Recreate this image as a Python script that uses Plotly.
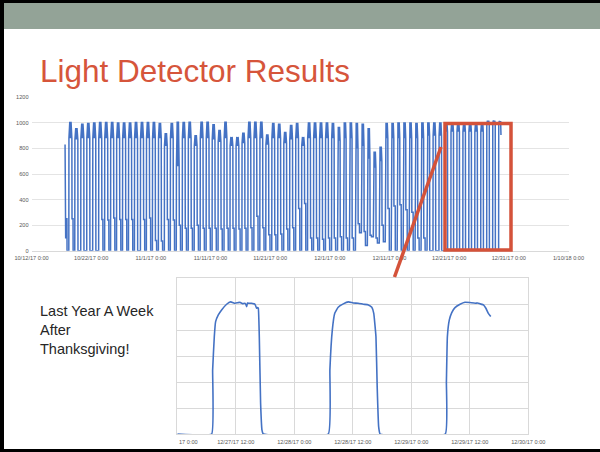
import pandas as pd
import plotly.graph_objects as go

# ---------------- data: top chart (one entry per day, 10/18/17 .. 12/29/17) ----------------
DAY_START = "2017-10-18"
DAY_END = "2017-12-29"

PEAK = [
    # Oct 18-31
    1009, 960, 995, 1000, 1005, 1008, 1008, 1008, 1005, 1005, 1005, 1008, 1008, 1008,
    # Nov 1-30
    1008, 1000, 920, 1000, 1010, 1008, 1010, 905, 1010, 1010, 990, 945, 1010, 890, 890,
    925, 1010, 1010, 1010, 910, 1000, 995, 930, 985, 1000, 890, 1005, 1005, 1005, 1005,
    # Dec 1-29
    1000, 970, 1005, 1005, 1000, 995, 960, 775, 815, 1000, 1000, 1005, 1005, 1005, 1000,
    1005, 1005, 1005, 1005, 1005, 1005, 1005, 1000, 1005, 1000, 1003, 1018, 1018, 1015,
]
DIP = [
    880, 870, 880, 880, 880, 880, 880, 880, 880, 880, 880, 880, 880, 880,
    880, 880, 820, 880, 660, 880, 880, 820, 880, 880, 870, 850, 880, 820, 820,
    840, 880, 880, 880, 830, 880, 880, 840, 870, 880, 820, 880, 880, 880, 880,
    880, 860, 880, 880, 800, 820, 720, 650, 700, 880, 880, 880, 880, 880, 880,
    880, 900, 900, 900, 930, 930, 930, 930, 930, 930, 930, 990, 1000, 1000,
]
EVENING = [
    250, 0, 0, 0, 0, 245, 240, 255, 245, 245, 245, 0, 245, 255,
    80, 75, 245, 240, 200, 175, 175, 200, 175, 175, 175, 170, 175, 175, 170,
    175, 180, 270, 180, 125, 125, 130, 170, 180, 330, 370, 100, 100, 90, 100,
    100, 110, 100, 100, 210, 150, 120, 100, 200, 330, 350, 360, 320, 300, 100,
    100, 0, 0, 0, 0, 0, 0, 0, 0, 0, 0, 0, 0, 0,
]
NIGHT_FLOOR = [
    0, 0, 0, 0, 0, 0, 0, 0, 0, 0, 0, 0, 0, 0,
    0, 0, 0, 0, 0, 0, 0, 0, 0, 0, 0, 0, 0, 0, 0,
    0, 0, 0, 0, 0, 0, 0, 0, 0, 0, 0, 0, 0, 0, 0,
    0, 0, 0, 0, 140, 40, 110, 60, 70, 0, 0, 0, 0, 0, 0,
    0, 0, 0, 0, 0, 0, 0, 0, 0, 0, 0, 0, 0, 0,
]
# hour of sunrise / sunset on the sensor, by month (Oct, Nov, Dec)
RISE_HOUR = {10: 6.1, 11: 6.4, 12: 6.9}
FALL_HOUR = {10: 18.4, 11: 17.9, 12: 17.3}
H_PEAK1, H_MID, H_PEAK2, H_EVE_OFF = 10.0, 12.5, 15.0, 23.0

START_TIMES = ["2017-10-17 15:00", "2017-10-17 16:30", "2017-10-17 17:30",
               "2017-10-17 18:00", "2017-10-17 22:30", "2017-10-17 23:00"]
START_VALUES = [830, 95, 95, 250, 250, 0]
END_TIME = "2017-12-29 16:25"
END_VALUE = 905

TOP_TICKS = ["2017-10-12", "2017-10-22", "2017-11-01", "2017-11-11", "2017-11-21",
             "2017-12-01", "2017-12-11", "2017-12-21", "2017-12-31", "2018-01-10"]
TOP_TICK_TEXT = ["10/12/17 0:00", "10/22/17 0:00", "11/1/17 0:00", "11/11/17 0:00",
                 "11/21/17 0:00", "12/1/17 0:00", "12/11/17 0:00", "12/21/17 0:00",
                 "12/31/17 0:00", "1/10/18 0:00"]
Y_TICKS = [0, 200, 400, 600, 800, 1000, 1200]

# ---------------- data: zoomed chart (hours after 12/27/17 0:00) ----------------
ZOOM_BASE = "2017-12-27"
ZOOM_HOURS = [
    0, 7.04, 7.25, 7.59, 7.86, 8.41, 9.09, 10.12, 10.94, 11.83, 12.4, 12.85, 13.4, 13.88,
    14.1, 14.22, 14.4, 14.56, 15.25, 15.7, 15.93, 16.1, 16.27, 16.45, 16.62, 16.82, 17.09,
    17.37, 17.64,
    30.97, 31.3, 31.8, 32.3, 33.0, 34.05, 35.1, 36.1, 37.1, 38.15, 39.2, 39.9, 40.3, 40.75,
    41.0, 41.3, 41.6,
    54.97, 55.2, 55.4, 55.8, 56.3, 56.96, 58.0, 59.0, 60.0, 61.1, 61.6, 62.1, 62.8, 63.3,
    63.8, 64.3,
]
ZOOM_VALUES = [
    0, 0, 494, 750, 866, 918, 956, 1000, 1018, 1008, 1012, 1015, 1005, 1008,
    995, 982, 1010, 1008, 1008, 1003, 1000, 985, 969, 975, 969, 750, 236,
    30, 0,
    0, 494, 802, 930, 977, 1003, 1018, 1010, 1008, 1000, 995, 977, 930, 750,
    365, 57, 0,
    0, 400, 750, 879, 936, 974, 1000, 1015, 1013, 1008, 1010, 1003, 995, 969,
    930, 905,
]
ZOOM_TICKS = ["2017-12-27 12:00", "2017-12-28 00:00", "2017-12-28 12:00",
              "2017-12-29 00:00", "2017-12-29 12:00", "2017-12-30 00:00"]
ZOOM_TICK_TEXT = ["12/27/17 12:00", "12/28/17 0:00", "12/28/17 12:00",
                  "12/29/17 0:00", "12/29/17 12:00", "12/30/17 0:00"]

# ---------------- build the top series ----------------
days = pd.date_range(DAY_START, DAY_END, freq="D")
hr = pd.Timedelta(hours=1)
tx = list(pd.to_datetime(START_TIMES))
ty = list(START_VALUES)
prev_floor = 0
for i, d in enumerate(days):
    last = i == len(days) - 1
    r, f = RISE_HOUR[d.month], FALL_HOUR[d.month]
    pts = [(r, prev_floor), (r + 0.5, DIP[i]), (H_PEAK1, PEAK[i]),
           (H_MID, DIP[i]), (H_PEAK2, PEAK[i])]
    if not last:
        pts += [(f, DIP[i]), (f + 0.6, EVENING[i]), (H_EVE_OFF, EVENING[i]),
                (H_EVE_OFF + 0.4, NIGHT_FLOOR[i])]
    for h, v in pts:
        tx.append(d + h * hr)
        ty.append(v)
    prev_floor = NIGHT_FLOOR[i]
tx.append(pd.Timestamp(END_TIME))
ty.append(END_VALUE)

zx = [pd.Timestamp(ZOOM_BASE) + h * hr for h in ZOOM_HOURS]

# ---------------- figure ----------------
W, H = 600, 452
def px(x):
    return x / W
def py(y):
    return 1 - y / H

BLUE = "#4472C4"
RED = "#D4523A"
GRID = "#D9D9D9"
LBL = "#595959"
FONT = "Liberation Sans, Arial, sans-serif"

fig = go.Figure()
fig.add_trace(go.Scatter(x=tx, y=ty, mode="lines", line=dict(color=BLUE, width=1.5),
                         xaxis="x", yaxis="y", hoverinfo="skip"))
fig.add_trace(go.Scatter(x=zx, y=ZOOM_VALUES, mode="lines",
                         line=dict(color=BLUE, width=1.6, shape="spline", smoothing=0.3),
                         xaxis="x2", yaxis="y2", hoverinfo="skip"))

fig.update_layout(
    width=W, height=H, autosize=False,
    margin=dict(l=0, r=0, t=0, b=0, pad=0, autoexpand=False),
    paper_bgcolor="white", plot_bgcolor="white", showlegend=False,
    font=dict(family=FONT),
    xaxis=dict(domain=[px(31.5), px(568.5)], type="date", automargin=False,
               range=["2017-10-12", "2018-01-10"], tickvals=TOP_TICKS, ticktext=TOP_TICK_TEXT,
               tickfont=dict(size=5.6, color=LBL), showgrid=False, zeroline=False,
               showline=True, linecolor=GRID, linewidth=1, ticks="", anchor="y",
               ticklabelstandoff=2),
    yaxis=dict(domain=[py(250.7), py(97.3)], range=[0, 1200], tickvals=Y_TICKS,
               automargin=False, ticklabelstandoff=2,
               tickfont=dict(size=5.6, color=LBL), showgrid=True, gridcolor="#E4E4E4",
               gridwidth=1, zeroline=False, showline=False, ticks="", anchor="x"),
    xaxis2=dict(domain=[px(177.3), px(528.3)], type="date", automargin=False,
                range=["2017-12-27", "2017-12-30"], tickvals=ZOOM_TICKS,
                ticktext=ZOOM_TICK_TEXT, tickfont=dict(size=5.6, color=LBL),
                showgrid=True, gridcolor=GRID, zeroline=False, showline=True, mirror=True,
                linecolor=GRID, ticks="", anchor="y2", ticklabelstandoff=2),
    yaxis2=dict(domain=[py(434), py(278.3)], range=[0, 1200], dtick=200, automargin=False,
                showticklabels=False, showgrid=True, gridcolor=GRID, zeroline=False,
                showline=True, mirror=True, linecolor=GRID, ticks="", anchor="x2"),
)

shapes = [
    # header band
    dict(type="rect", xref="paper", yref="paper", x0=px(0), x1=px(600), y0=py(29), y1=py(0),
         fillcolor="#93A397", line=dict(width=0), layer="below"),
    # slide frame (black)
    dict(type="rect", xref="paper", yref="paper", x0=px(0), x1=px(600), y0=py(3), y1=py(0),
         fillcolor="black", line=dict(width=0)),
    dict(type="rect", xref="paper", yref="paper", x0=px(0), x1=px(4), y0=py(452), y1=py(0),
         fillcolor="black", line=dict(width=0)),
    dict(type="rect", xref="paper", yref="paper", x0=px(0), x1=px(600), y0=py(452), y1=py(449),
         fillcolor="black", line=dict(width=0)),
    # highlight box and pointer
    dict(type="rect", xref="paper", yref="paper", x0=px(445), x1=px(511), y0=py(250), y1=py(123.5),
         line=dict(color=RED, width=3.5)),
    dict(type="line", xref="paper", yref="paper", x0=px(441), y0=py(147), x1=px(394.5), y1=py(277),
         line=dict(color=RED, width=3.5)),
]
fig.update_layout(shapes=shapes)

fig.add_annotation(xref="paper", yref="paper", x=px(38), y=py(71), xanchor="left",
                   yanchor="middle", showarrow=False, text="Light Detector Results",
                   font=dict(size=31.5, color="#D6553B", family=FONT))
fig.add_annotation(xref="paper", yref="paper", x=px(38), y=py(301), xanchor="left",
                   yanchor="top", showarrow=False, align="left",
                   text="Last Year A Week<br>After<br>Thanksgiving!",
                   font=dict(size=14.5, color="#262626", family=FONT))
fig.add_annotation(xref="paper", yref="paper", x=px(176.5), y=py(442), xanchor="left",
                   yanchor="middle", showarrow=False, text="17 0:00",
                   font=dict(size=5.6, color=LBL, family=FONT))

fig.write_html(
    "out.html",
    config={"displayModeBar": False, "responsive": False},
    post_script="document.body.style.margin='0';document.body.style.overflow='hidden';",
)
